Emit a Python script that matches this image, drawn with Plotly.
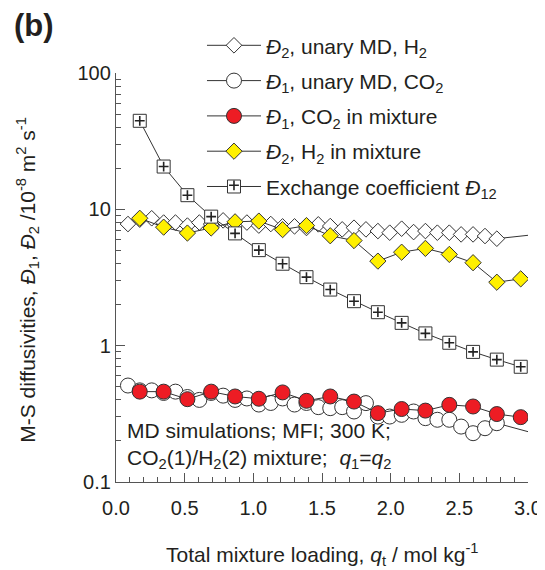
import plotly.graph_objects as go

# ---------------- data ----------------
# loadings (mol/kg) for mixture simulations
x_mix = [0.173, 0.347, 0.520, 0.693, 0.867, 1.040, 1.213, 1.387, 1.560, 1.733,
         1.907, 2.080, 2.253, 2.427, 2.600, 2.773, 2.947]
# loadings for unary simulations
x_unary = [0.087, 0.173, 0.260, 0.347, 0.433, 0.520, 0.607, 0.693, 0.780, 0.867,
           0.953, 1.040, 1.127, 1.213, 1.300, 1.387, 1.473, 1.560, 1.647, 1.733,
           1.820, 1.907, 1.993, 2.080, 2.167, 2.253, 2.340, 2.427, 2.513, 2.600,
           2.687, 2.773]

d2_unary_h2 = [7.8, 8.4, 8.6, 8.0, 8.0, 7.6, 8.0, 7.8, 8.3, 7.7,
               8.0, 7.6, 7.8, 7.5, 7.5, 7.3, 7.76, 7.54, 7.13, 7.33,
               7.13, 6.93, 6.74, 7.21, 6.81, 6.93, 6.74, 6.74, 6.55, 6.55,
               6.37, 6.09]
d2_unary_h2_tail_x = [2.773, 3.0]
d2_unary_h2_tail_y = [6.09, 6.45]

d1_unary_co2 = [0.51, 0.47, 0.47, 0.45, 0.46, 0.42, 0.40, 0.45, 0.43, 0.40,
                0.41, 0.37, 0.38, 0.41, 0.37, 0.38, 0.354, 0.348, 0.354, 0.329,
                0.379, 0.302, 0.302, 0.311, 0.329, 0.294, 0.286, 0.286, 0.255, 0.228,
                0.248, 0.270]
d1_unary_co2_tail_x = [2.773, 3.0]
d1_unary_co2_tail_y = [0.270, 0.234]

d1_mix_co2 = [0.46, 0.46, 0.405, 0.46, 0.424, 0.408, 0.454, 0.394, 0.424, 0.389,
              0.32, 0.343, 0.334, 0.368, 0.358, 0.315, 0.299]
d2_mix_h2 = [8.6, 7.4, 6.7, 7.3, 8.1, 8.2, 7.1, 7.6, 6.4, 5.9,
             4.17, 4.85, 5.17, 4.67, 4.06, 2.92, 3.09]
d12_exchange = [44.6, 20.6, 12.7, 8.84, 6.66, 5.02, 3.99, 3.18, 2.58, 2.12,
                1.76, 1.47, 1.23, 1.05, 0.90, 0.79, 0.70]

x_tick_vals = [0.0, 0.5, 1.0, 1.5, 2.0, 2.5, 3.0]
y_tick_vals = [0.1, 1, 10, 100]
y_tick_text = ["0.1", "1", "10", "100"]

# ---------------- styles ----------------
FONT = "Liberation Sans, Arial, sans-serif"
TXT_C = "#231f20"
LINE_C = "#333333"
AXIS_C = "#555555"
RED = "#ED1C24"
YELLOW = "#FFF000"

fig = go.Figure()

# unary H2 (open diamonds)
fig.add_trace(go.Scatter(
    x=d2_unary_h2_tail_x, y=d2_unary_h2_tail_y, mode="lines",
    line=dict(color=LINE_C, width=1), showlegend=False, hoverinfo="skip"))
fig.add_trace(go.Scatter(
    x=x_unary, y=d2_unary_h2, mode="lines+markers",
    name="<i>Đ</i><sub>2</sub>, unary MD, H<sub>2</sub>",
    line=dict(color=LINE_C, width=1),
    marker=dict(symbol="diamond", size=12, color="white",
                line=dict(color=LINE_C, width=1)),
    legendgroup="g1"))

# unary CO2 (open circles)
fig.add_trace(go.Scatter(
    x=d1_unary_co2_tail_x, y=d1_unary_co2_tail_y, mode="lines",
    line=dict(color=LINE_C, width=1), showlegend=False, hoverinfo="skip"))
fig.add_trace(go.Scatter(
    x=x_unary, y=d1_unary_co2, mode="lines+markers",
    name="<i>Đ</i><sub>1</sub>, unary MD, CO<sub>2</sub>",
    line=dict(color=LINE_C, width=1),
    marker=dict(symbol="circle", size=15, color="white",
                line=dict(color=LINE_C, width=1)),
    legendgroup="g2"))

# CO2 in mixture (red circles)
fig.add_trace(go.Scatter(
    x=x_mix, y=d1_mix_co2, mode="lines+markers",
    name="<i>Đ</i><sub>1</sub>, CO<sub>2</sub> in mixture",
    line=dict(color=LINE_C, width=1),
    marker=dict(symbol="circle", size=15, color=RED,
                line=dict(color=LINE_C, width=1)),
    legendgroup="g3"))

# H2 in mixture (yellow diamonds)
fig.add_trace(go.Scatter(
    x=x_mix, y=d2_mix_h2, mode="lines+markers",
    name="<i>Đ</i><sub>2</sub>, H<sub>2</sub> in mixture",
    line=dict(color=LINE_C, width=1),
    marker=dict(symbol="diamond", size=12.5, color=YELLOW,
                line=dict(color=LINE_C, width=1)),
    legendgroup="g4"))

# exchange coefficient (square with small cross)
fig.add_trace(go.Scatter(
    x=x_mix, y=d12_exchange, mode="lines+markers",
    name="Exchange coefficient <i>Đ</i><sub>12</sub>",
    line=dict(color=LINE_C, width=1),
    marker=dict(symbol="square", size=13, color="white",
                line=dict(color=LINE_C, width=1)),
    legendgroup="g5"))
fig.add_trace(go.Scatter(
    x=x_mix, y=d12_exchange, mode="markers", name=" ",
    marker=dict(symbol="cross-thin-open", size=7, color="#222222",
                line=dict(color="#222222", width=1.6)),
    legend="legend2", hoverinfo="skip"))

axis_common = dict(
    showline=True, linecolor=AXIS_C, linewidth=1.3,
    ticks="inside", ticklen=9, tickwidth=1.2, tickcolor=AXIS_C,
    showgrid=False, zeroline=False, mirror=False,
    ticklabeloverflow="allow",
    tickfont=dict(size=20, family=FONT, color=TXT_C),
)

fig.update_xaxes(
    range=[0, 3], tickvals=x_tick_vals, tickformat=".1f", ticklabelstandoff=8,
    minor=dict(ticks="inside", ticklen=5, tickwidth=1, tickcolor=AXIS_C, dtick=0.1),
    **axis_common)

fig.update_yaxes(
    type="log", range=[-1, 2], tickvals=y_tick_vals, ticktext=y_tick_text,
    minor=dict(ticks="inside", ticklen=5, tickwidth=1, tickcolor=AXIS_C, dtick="D1"),
    **axis_common)

# page has an 8px body margin; figure sized to reach the window edges
W, H = 537, 562
M_L, M_R, M_T, M_B = 108, 17, 65, 88
plot_h = H - M_T - M_B

leg_x = 0.2087
leg_y = 1.117
row_px = 35

fig.update_layout(
    width=W, height=H,
    margin=dict(l=M_L, r=M_R, t=M_T, b=M_B, autoexpand=False),
    paper_bgcolor="white", plot_bgcolor="white",
    font=dict(family=FONT, color=TXT_C),
    legend=dict(x=leg_x, y=leg_y, xanchor="left", yanchor="top",
                bgcolor="rgba(0,0,0,0)", borderwidth=0,
                font=dict(size=21, family=FONT, color=TXT_C),
                itemwidth=54, tracegroupgap=5, traceorder="grouped",
                itemclick=False, itemdoubleclick=False),
    legend2=dict(x=leg_x, y=leg_y - 4 * row_px / plot_h, xanchor="left", yanchor="top",
                 bgcolor="rgba(0,0,0,0)", borderwidth=0,
                 font=dict(size=21, family=FONT, color=TXT_C),
                 itemwidth=54, itemclick=False, itemdoubleclick=False),
    showlegend=True,
    annotations=[
        dict(text="(b)", xref="paper", yref="paper", x=-0.252, y=1.117,
             xanchor="left", yanchor="middle", showarrow=False,
             font=dict(size=31, family=FONT, color=TXT_C, weight="bold")),
        dict(text="MD simulations; MFI; 300 K;",
             xref="paper", yref="paper", x=0.022, y=0.125,
             xanchor="left", yanchor="middle", align="left", showarrow=False,
             font=dict(size=21, family=FONT, color=TXT_C)),
        dict(text="CO<sub>2</sub>(1)/H<sub>2</sub>(2) mixture;  <i>q</i><sub>1</sub>=<i>q</i><sub>2</sub>",
             xref="paper", yref="paper", x=0.022, y=0.057,
             xanchor="left", yanchor="middle", align="left", showarrow=False,
             font=dict(size=21, family=FONT, color=TXT_C)),
        dict(text="M-S diffusivities, <i>Đ</i><sub>1</sub>, <i>Đ</i><sub>2</sub> /10<sup>-8</sup> m<sup>2</sup> s<sup>-1</sup>",
             xref="paper", yref="paper", x=-0.214, y=0.494, textangle=-90,
             xanchor="center", yanchor="middle", showarrow=False,
             font=dict(size=21, family=FONT, color=TXT_C)),
        dict(text="Total mixture loading, <i>q</i><sub>t</sub> / mol kg<sup>-1</sup>",
             xref="paper", yref="paper", x=0.5, y=-0.178,
             xanchor="center", yanchor="middle", showarrow=False,
             font=dict(size=21, family=FONT, color=TXT_C)),
    ],
)

fig.write_html("out.html")
